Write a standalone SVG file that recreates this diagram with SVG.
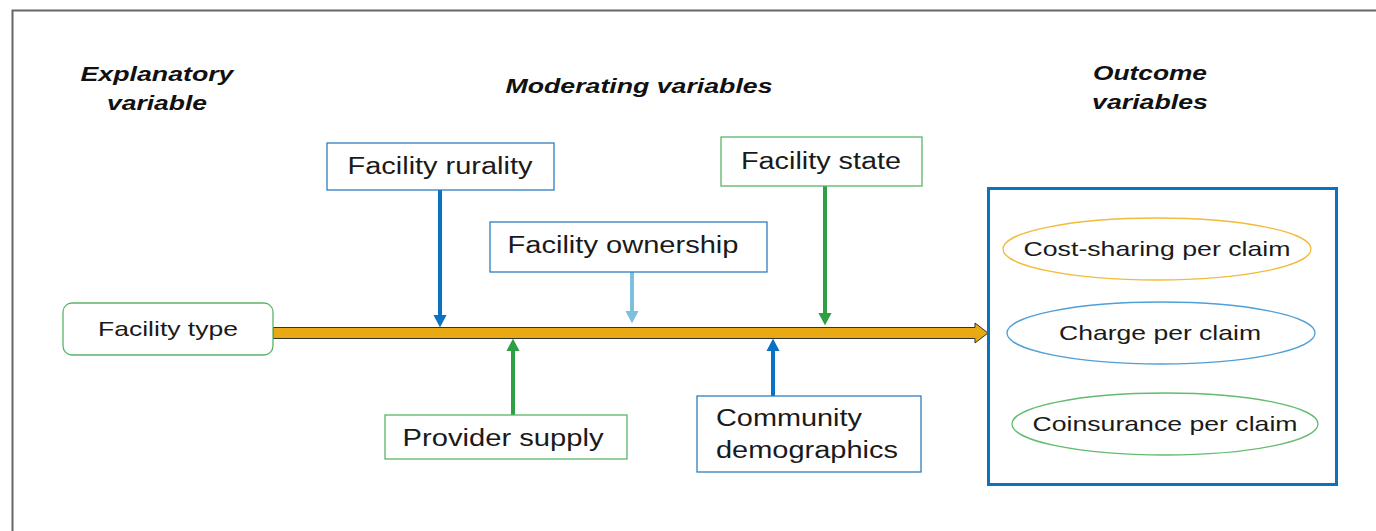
<svg xmlns="http://www.w3.org/2000/svg" width="1376" height="531" viewBox="0 0 1376 531">
<style>
.hdr{font-family:"Liberation Sans",Arial,sans-serif;font-size:21px;font-weight:bold;font-style:italic;fill:#111;text-anchor:middle}
.lbl{font-family:"Liberation Sans",Arial,sans-serif;font-size:23px;fill:#1a1a1a}
.c{text-anchor:middle}
.ol{font-family:"Liberation Sans",Arial,sans-serif;font-size:21px;fill:#1a1a1a;text-anchor:middle}
.box{fill:#fff;stroke-width:1.3}
.g{stroke:#5cb46a}
.b{stroke:#2e7fc2}
.arr{stroke-width:4;fill:none}
</style>
<defs>
<marker id="hBlue" markerWidth="3.2" markerHeight="3.4" refX="1.6" refY="1.7" orient="auto" markerUnits="strokeWidth"><path d="M0,0 L3.2,1.7 L0,3.4 Z" fill="#0b72c2"/></marker>
<marker id="hGreen" markerWidth="3.2" markerHeight="3.4" refX="1.6" refY="1.7" orient="auto" markerUnits="strokeWidth"><path d="M0,0 L3.2,1.7 L0,3.4 Z" fill="#2ea043"/></marker>
<marker id="hLight" markerWidth="3.2" markerHeight="3.4" refX="1.6" refY="1.7" orient="auto" markerUnits="strokeWidth"><path d="M0,0 L3.2,1.7 L0,3.4 Z" fill="#7dbfdf"/></marker>
</defs>
<rect width="1376" height="531" fill="#fff"/>
<path d="M12.5,531 V10.5 H1376" fill="none" stroke="#666" stroke-width="2"/>

<text class="hdr" x="157" y="81" textLength="153" lengthAdjust="spacingAndGlyphs">Explanatory</text>
<text class="hdr" x="157" y="110" textLength="100" lengthAdjust="spacingAndGlyphs">variable</text>
<text class="hdr" x="639" y="93" textLength="267" lengthAdjust="spacingAndGlyphs">Moderating variables</text>
<text class="hdr" x="1150" y="80" textLength="114" lengthAdjust="spacingAndGlyphs">Outcome</text>
<text class="hdr" x="1150" y="109" textLength="116" lengthAdjust="spacingAndGlyphs">variables</text>

<g id="connectors">
<path d="M273,327.5 H975 V323 L988,333 L975,343 V338.5 H273 Z" fill="#e8a913" stroke="#333" stroke-width="1"/>
<line class="arr" x1="440" y1="190" x2="440" y2="321" stroke="#0b72c2" marker-end="url(#hBlue)"/>
<line class="arr" x1="632" y1="272" x2="632" y2="317" stroke="#7dbfdf" marker-end="url(#hLight)"/>
<line class="arr" x1="825" y1="186" x2="825" y2="319" stroke="#2ea043" marker-end="url(#hGreen)"/>
<line class="arr" x1="513" y1="415" x2="513" y2="345" stroke="#2ea043" marker-end="url(#hGreen)"/>
<line class="arr" x1="773" y1="396" x2="773" y2="345" stroke="#0b72c2" marker-end="url(#hBlue)"/>
</g>

<g id="facility-type">
<rect class="box g" x="63" y="303" width="210" height="52" rx="9"/>
<text class="ol" x="168" y="336" textLength="140" lengthAdjust="spacingAndGlyphs">Facility type</text>
</g>
<g id="facility-rurality">
<rect class="box b" x="327" y="143" width="227" height="47"/>
<text class="lbl c" x="440" y="174" textLength="185" lengthAdjust="spacingAndGlyphs">Facility rurality</text>
</g>
<g id="facility-ownership">
<rect class="box b" x="490" y="222" width="277" height="50"/>
<text class="lbl c" x="623" y="253" textLength="231" lengthAdjust="spacingAndGlyphs">Facility ownership</text>
</g>
<g id="facility-state">
<rect class="box g" x="721" y="137" width="201" height="49"/>
<text class="lbl c" x="821" y="169" textLength="160" lengthAdjust="spacingAndGlyphs">Facility state</text>
</g>
<g id="provider-supply">
<rect class="box g" x="385" y="415" width="242" height="44"/>
<text class="lbl c" x="503" y="446" textLength="201" lengthAdjust="spacingAndGlyphs">Provider supply</text>
</g>
<g id="community-demographics">
<rect class="box b" x="697" y="396" width="224" height="76"/>
<text class="lbl" x="716" y="426" textLength="146" lengthAdjust="spacingAndGlyphs">Community</text>
<text class="lbl" x="716" y="458" textLength="182" lengthAdjust="spacingAndGlyphs">demographics</text>
</g>
<g id="outcomes">
<rect x="988.5" y="188.5" width="348" height="296" fill="none" stroke="#0b72c2" stroke-width="3"/>
<g id="cost-sharing">
<ellipse cx="1157" cy="249" rx="154" ry="31" fill="#fff" stroke="#f2bb3a" stroke-width="1.3"/>
<text class="ol" x="1157" y="256" textLength="267" lengthAdjust="spacingAndGlyphs">Cost-sharing per claim</text>
</g>
<g id="charge">
<ellipse cx="1161" cy="333" rx="154" ry="31" fill="#fff" stroke="#4f9fd8" stroke-width="1.3"/>
<text class="ol" x="1160" y="340" textLength="202" lengthAdjust="spacingAndGlyphs">Charge per claim</text>
</g>
<g id="coinsurance">
<ellipse cx="1165" cy="424" rx="153" ry="31" fill="#fff" stroke="#62bb6e" stroke-width="1.3"/>
<text class="ol" x="1165" y="431" textLength="265" lengthAdjust="spacingAndGlyphs">Coinsurance per claim</text>
</g>
</g>
</svg>
